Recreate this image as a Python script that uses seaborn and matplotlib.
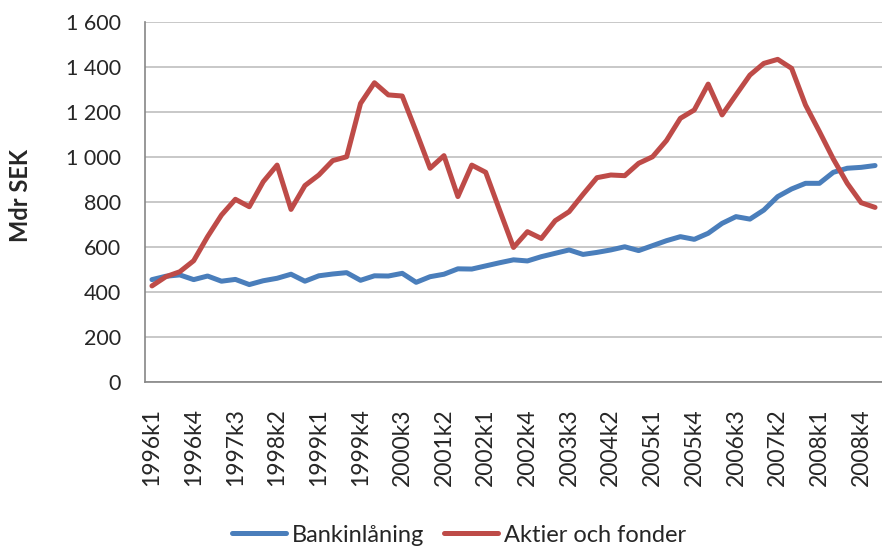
import numpy as np
import pandas as pd
import matplotlib
matplotlib.use("Agg")
import matplotlib.pyplot as plt
import seaborn as sns
from matplotlib.ticker import FuncFormatter

# kvartal 1996k1 - 2009k1
quarters = [f"{y}k{q}" for y in range(1996, 2010) for q in range(1, 5)][:53]

bankinlaning = [455, 470, 476, 455, 471, 448, 456, 433, 450, 461,
                479, 448, 472, 480, 486, 452, 472, 471, 483, 443,
                468, 479, 503, 502, 516, 530, 543, 538, 557, 572,
                587, 567, 576, 587, 601, 584, 606, 628, 646, 634,
                661, 705, 735, 724, 764, 824, 858, 883, 883, 932,
                950, 954, 962]

aktier_fonder = [427, 468, 490, 539, 646, 742, 812, 779, 890, 964,
                 767, 873, 920, 984, 1001, 1238, 1330, 1276, 1271, 1113,
                 950, 1006, 824, 964, 932, 764, 598, 668, 638, 717,
                 757, 834, 908, 920, 917, 972, 1001, 1073, 1172, 1209,
                 1324, 1187, 1276, 1364, 1416, 1434, 1394, 1231, 1113, 991,
                 883, 797, 776]

df = pd.DataFrame({"pos": np.arange(len(quarters)),
                   "Bankinlåning": bankinlaning,
                   "Aktier och fonder": aktier_fonder})
long = df.melt(id_vars="pos", var_name="serie", value_name="varde")

sns.set_style("white")
plt.rcParams["font.family"] = ["Lato", "DejaVu Sans"]

fig = plt.figure(figsize=(8.82, 5.49), dpi=100)
ax = fig.add_axes([145 / 882, 1 - 382 / 549, 1 - 145 / 882, 360 / 549])

sns.lineplot(data=long, x="pos", y="varde", hue="serie",
             palette={"Bankinlåning": "#4A7EBB", "Aktier och fonder": "#BE4B48"},
             linewidth=3.6, ax=ax, legend=False)

ax.set_xlim(-0.5, (882 - 145) / 13.97 - 0.5)
ax.set_ylim(0, 1600)
ax.set_yticks(range(0, 1601, 200))
ax.yaxis.set_major_formatter(FuncFormatter(lambda v, p: f"{int(v):,}".replace(",", " ")))
ax.grid(axis="y", color="#BFBFBF", linewidth=1.2)
ax.set_axisbelow(True)

ax.set_xticks(np.arange(0, len(quarters), 3))
ax.set_xticklabels(quarters[::3], rotation=90)
ax.set_xticks(np.arange(-0.5, len(quarters), 1), minor=True)
ax.tick_params(axis="x", which="major", length=0, pad=19, labelsize=16.5)
ax.tick_params(axis="x", which="minor", length=5, width=1, color="#868686")
ax.tick_params(axis="y", length=5.5, width=1, color="#868686", labelsize=15.5, pad=12)

for s in ["top", "right"]:
    ax.spines[s].set_visible(False)
for s in ["left", "bottom"]:
    ax.spines[s].set_color("#868686")
    ax.spines[s].set_linewidth(1.2)

ax.set_xlabel("")
ax.set_ylabel("Mdr SEK", fontsize=17, fontweight="bold")
ax.yaxis.set_label_coords((32 - 145) / 737, (382 - 195) / 360)

handles = [plt.Line2D([], [], color="#4A7EBB", linewidth=3.6),
           plt.Line2D([], [], color="#BE4B48", linewidth=3.6)]
fig.legend(handles, ["Bankinlåning", "Aktier och fonder"], loc="center",
           bbox_to_anchor=(459 / 882, 1 - 535 / 549), ncol=2, frameon=False,
           fontsize=17, handlelength=2.3, handletextpad=0.25, columnspacing=0.8)

fig.savefig("out.png", dpi=100)
